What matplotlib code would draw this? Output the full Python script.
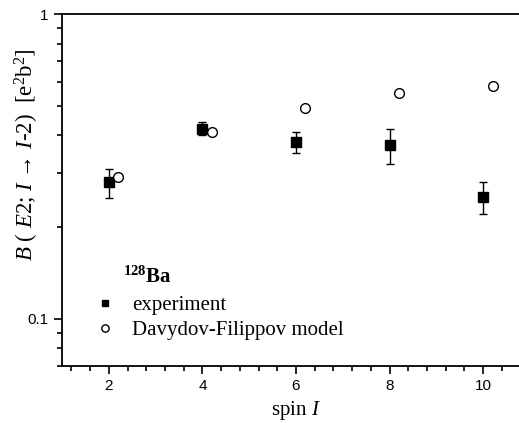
import matplotlib
matplotlib.use("Agg")
import matplotlib.pyplot as plt
from matplotlib.ticker import LogLocator, FixedLocator, FixedFormatter, NullFormatter, MultipleLocator
import numpy as np

plt.rcParams['mathtext.fontset'] = 'custom'
plt.rcParams['mathtext.rm'] = 'Liberation Serif'
plt.rcParams['mathtext.it'] = 'Liberation Serif:italic'
plt.rcParams['mathtext.bf'] = 'Liberation Serif:bold'

spin = [2, 4, 6, 8, 10]
b_exp = [0.280, 0.421, 0.381, 0.371, 0.251]
b_err = [0.030, 0.020, 0.030, 0.050, 0.030]
spin_model = [2.2, 4.2, 6.2, 8.2, 10.2]
b_model = [0.291, 0.411, 0.491, 0.551, 0.582]

fig = plt.figure(figsize=(5.19, 4.23), dpi=100)
ax = fig.add_axes([62/519, 57/423, 468/519, 352/423])

ax.errorbar(spin, b_exp, yerr=b_err, fmt='none', ecolor='black',
            capsize=3, elinewidth=1, capthick=1)
ax.plot(spin, b_exp, 's', color='black', ms=6.5, label='experiment')
ax.plot(spin_model, b_model, 'o', mfc='white', mec='black', mew=1, ms=7,
        label='Davydov-Filippov model')

ax.set_yscale('log')
ax.set_ylim(0.07, 1)
ax.set_xlim(1, 11)

ax.yaxis.set_major_locator(FixedLocator([0.1, 1]))
ax.yaxis.set_major_formatter(FixedFormatter(['0.1', '1']))
ax.yaxis.set_minor_locator(LogLocator(base=10, subs=np.arange(2, 10)))
ax.yaxis.set_minor_formatter(NullFormatter())
ax.xaxis.set_major_locator(FixedLocator([2, 4, 6, 8, 10]))
ax.xaxis.set_minor_locator(MultipleLocator(0.4))

ax.tick_params(which='both', direction='out', top=False, right=False, width=1.2)
ax.tick_params(which='major', length=6, labelsize=11)
ax.tick_params(which='minor', length=3.5)
for lbl in ax.get_xticklabels() + ax.get_yticklabels():
    lbl.set_fontfamily('Liberation Sans')
for s in ax.spines.values():
    s.set_linewidth(1.3)

ax.set_xlabel(r'spin $I$', fontfamily='Liberation Serif', fontsize=15, labelpad=4)
ax.set_ylabel(r'$B$ ( $E2$; $I$ → $I$-2)  [e$^2$b$^2$]',
              fontfamily=['Liberation Serif', 'DejaVu Serif'], fontsize=16.5)
ax.yaxis.set_label_coords(-0.045, 0.60)

ax.text(123/519, 1 - 276/423, r'$^{\mathbf{128}}\mathbf{Ba}$', transform=fig.transFigure,
        fontsize=15, va='center', ha='left')
leg = ax.legend(loc='upper left', bbox_to_anchor=(74/519, 1 - 277/423),
                bbox_transform=fig.transFigure, frameon=False, markerscale=0.75,
                handlelength=1.2, handletextpad=0.67, labelspacing=0.25,
                prop={'family': 'Liberation Serif', 'size': 15})

fig.savefig('out.png', dpi=100)
